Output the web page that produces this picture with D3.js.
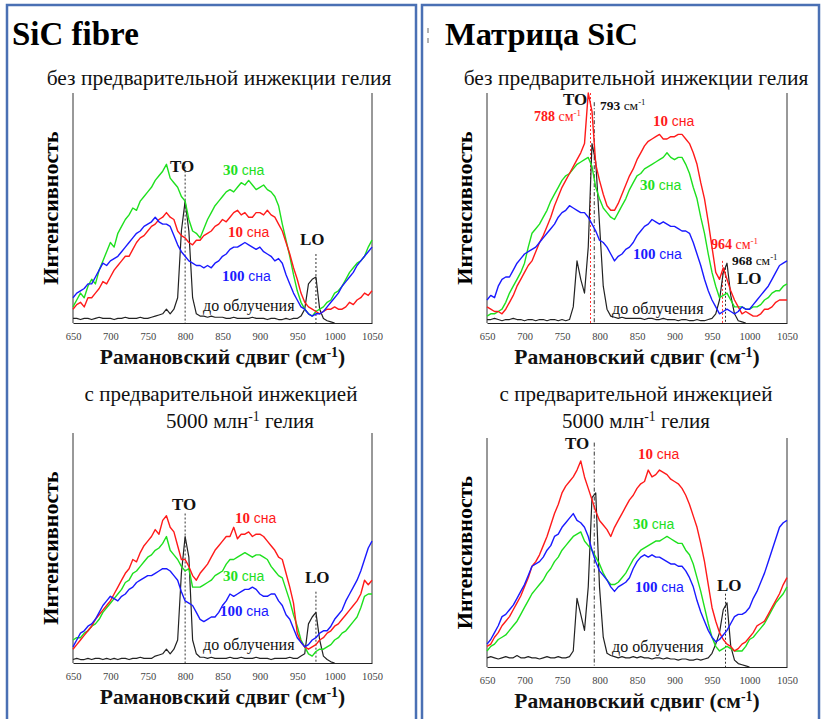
<!DOCTYPE html>
<html>
<head>
<meta charset="utf-8">
<script src="https://cdn.jsdelivr.net/npm/d3@7/dist/d3.min.js"></script>
<style>
  body { margin: 0; background: #fff; }
  svg { display: block; }
</style>
</head>
<body>
<div id="vis-container"></div>
<script>
const w = 824
const h = 719

// Raman shift grid, cm-1 (one reading every 5 cm-1)
const shift = d3.range(650, 1051, 5)
const xTicks = [650, 700, 750, 800, 850, 900, 950, 1000, 1050]

// ---- SiC fibre, no He pre-injection (relative intensity, 0..100 of the frame)
const fibreNoHe_black = [2,2,1.5,2,2,1.5,2,2.5,2,2, 2,1.5,2,2,2.5,2,2,2,2.5,2, 2,2.5,3,3.5,4,6,4,6,11,40,
  53,40,11,4,3,3,2.5,3,2.5,2.5, 2.5,2,2,2.5,2,2,2,2,2.5,2, 2,2,1.5,2,2,1.5,1.5,2,1.5,2,
  2,3,6,17,19,20,6,2,1,0.5, 0,null,null,null,null,null,null,null,null,null, null]
const fibreNoHe_red = [6,8,9,7,11,11,13,15,18,17, 20,23,25,27,29,29,32,35,37,38, 40,42,43,45,46,48,46,45,40,38,
  37,35,34,36,36,38,39,40,42,43, 45,44,46,48,49,47,48,46,46,48, 48,47,49,47,46,43,40,35,30,24,
  19,13,9,7,6,5,4,5,6,6, 7,6,6,7,9,8,10,11,13,12, 14]
const fibreNoHe_green = [7,10,13,11,16,19,17,23,27,31, 35,33,39,42,45,47,50,49,53,55, 57,59,62,64,66,69,63,61,59,55,
  53,45,40,39,37,41,45,48,51,53, 55,57,58,57,59,61,60,62,60,58, 59,60,58,57,55,51,43,36,29,21,
  14,9,6,4,3,5,6,7,9,10, 13,14,16,19,22,24,26,27,29,33, 36]
const fibreNoHe_blue = [11,13,14,15,17,17,20,23,26,25, 27,28,29,31,33,35,37,39,40,42, 43,44,46,44,43,43,42,38,34,31,
  29,27,26,25,25,24,25,24,26,27, 29,30,32,33,33,34,35,34,33,32, 33,31,30,29,27,28,26,21,17,13,
  10,7,6,4,3,4,4,5,7,9, 11,13,16,18,20,22,25,27,29,31, 33]

// ---- SiC fibre, 5000 appm He pre-injection
const fibreHe_black = [1.5,2,1.5,1.5,2,1.5,2,2,1.5,2, 1.5,2,1.5,2,2,1.5,2,2,2.5,2, 2,2,3,3.5,4,6,4,6,10,39,
  55,46,10,4,2.5,2.5,2,2.5,2,2, 2,2,2.5,2,2,2.5,2,2,2,2.5, 2,2,2,1.5,2,2,2,2,2.5,2,
  2,3,4,17,20,22,10,3,1.5,0.5, 0,null,null,null,null,null,null,null,null,null, null]
const fibreHe_red = [6,8,10,12,14,16,19,21,23,25, 27,30,33,36,39,41,45,44,48,51, 53,55,58,56,62,64,59,57,51,45,
  45,42,38,36,39,41,43,46,49,51, 53,55,55,59,54,56,56,57,55,56, 56,55,53,51,49,46,45,39,33,26,
  13,9,7,6,7,8,10,11,13,14, 16,17,19,21,23,25,27,30,36,34, 36]
const fibreHe_green = [10,11,11,13,14,16,17,19,22,24, 26,28,30,32,35,36,39,40,42,44, 46,47,49,50,52,55,49,47,45,42,
  40,41,33,33,33,34,35,36,38,39, 40,43,45,45,46,47,48,47,46,47, 47,46,45,42,40,38,37,32,27,21,
  16,10,7,4,3,5,6,6,7,8, 10,11,13,14,16,18,20,24,29,30, 30]
const fibreHe_blue = [7,10,13,14,16,17,19,22,25,27, 29,28,27,29,30,32,33,35,36,37, 38,38,39,40,41,41,40,38,36,31,
  27,26,25,22,19,18,19,20,20,22, 25,27,30,29,30,31,32,32,33,32, 30,29,29,30,30,27,25,21,19,15,
  11,9,7,8,10,11,13,14,14,16, 19,21,23,27,30,33,36,40,45,50, 53]

// ---- SiC matrix, no He pre-injection
const matrixNoHe_black = [1.5,1.5,2,1.5,1,1.5,1.5,2,1.5,1.5, 1,1.5,1.5,1,1.5,1.5,1,1.5,1.5,1, 1.5,1,1.5,7,27,19,13,33,78,70,
  43,16,6,3,2.5,2,2.5,2,2,2, 2,2,1.5,2,2,1.5,1.5,2,1.5,1.5, 1.5,1,1.5,1.5,1,1,1.5,1,1,1.5,
  2,4,10,22,26,12,4,1,0.5,0, null,null,null,null,null,null,null,null,null,null, null]
const matrixNoHe_red = [7,6,5,5,4,6,9,12,16,19, 22,25,27,31,35,38,42,46,51,55, 59,62,65,68,71,74,78,100,92,69,
  62,56,51,49,49,52,56,60,64,67, 71,74,77,79,80,81,82,80,80,81, 81,82,82,80,78,74,69,61,54,44,
  33,22,19,24,19,14,10,7,4,5, 4,3,3,4,6,6,7,9,10,10, 10]
const matrixNoHe_green = [3,4,4,5,6,9,13,16,19,22, 26,33,39,41,43,46,49,53,56,59, 62,64,65,67,69,70,71,72,68,59,
  54,50,48,46,45,48,51,54,58,61, 64,65,67,68,69,70,71,72,74,72, 71,72,72,69,65,59,54,46,39,30,
  22,16,11,12,13,10,7,7,7,6, 6,7,7,8,10,11,13,14,14,16, 17]
const matrixNoHe_blue = [10,12,11,16,19,20,20,23,26,28, 30,31,32,33,35,37,39,41,43,46, 48,49,51,50,49,48,48,46,43,40,
  36,35,33,30,27,29,30,32,33,35, 38,40,42,43,45,44,43,44,43,42, 42,41,40,40,39,35,30,25,19,14,
  10,7,4,5,6,5,4,5,7,6, 6,8,10,12,14,16,19,22,25,26, 27]

// ---- SiC matrix, 5000 appm He pre-injection
const matrixHe_black = [4,4.5,4,3.5,4,4.5,4,4,5,4, 4,4.5,4,4,3.5,4,4.5,4,4,4.5, 4,4,4.5,7,30,23,16,35,74,76,
  35,13,6,5,4.5,4,4.5,4,4,4.5, 4,4.5,4,4,3.5,4,4,3.5,4,3.5, 3.5,3,3.5,3.5,3,3,3.5,3,3.5,4,
  6,10,15,25,28,9,3,1.5,1,0.5, 0,null,null,null,null,null,null,null,null,null, null]
const matrixHe_red = [9,10,13,15,18,20,22,25,28,31, 35,39,44,46,49,53,57,62,67,71, 76,79,81,83,86,90,83,78,73,68,
  64,62,60,57,61,64,67,70,73,75, 78,80,81,86,83,84,86,85,84,82, 81,80,78,75,71,66,61,54,46,36,
  26,20,15,12,10,9,7,8,10,11, 13,15,18,19,20,23,26,29,32,36, 39]
const matrixHe_green = [7,9,10,12,13,14,16,18,20,23, 26,29,32,34,36,38,41,43,46,48, 51,53,55,57,58,59,55,53,51,48,
  45,41,38,36,36,37,39,41,44,47, 49,51,52,53,54,55,55,56,57,56, 55,54,54,51,49,45,39,33,26,19,
  13,9,7,8,9,8,7,7,7,9, 12,13,15,17,19,22,25,28,30,32, 35]
const matrixHe_blue = [10,12,15,18,22,23,25,27,30,33, 36,40,44,45,46,48,51,53,57,58, 61,63,65,67,64,63,61,57,51,46,
  42,40,38,35,33,35,36,37,39,43, 46,48,49,48,49,48,48,47,46,45, 45,44,44,42,39,35,29,24,20,16,
  13,11,12,14,16,19,22,23,23,24, 26,30,33,37,41,46,51,56,61,63, 64]

const colors = { black: "#222", red: "#ff1a1a", green: "#1ee01e", blue: "#1a1aff" }

const serif = "'Liberation Serif'"
const sans = "'Liberation Sans'"

const svg = d3.select("#vis-container").append("svg")
  .attr("width", w)
  .attr("height", h)
  .style("font-family", serif)

// blue frames
const frame = "#4a70b4"
svg.append("rect").attr("x", 7).attr("y", 5).attr("width", 409).attr("height", 720)
  .attr("fill", "none").attr("stroke", frame).attr("stroke-width", 2.5)
svg.append("rect").attr("x", 422).attr("y", 5).attr("width", 397).attr("height", 720)
  .attr("fill", "none").attr("stroke", frame).attr("stroke-width", 2.5)
svg.append("line").attr("x1", 428).attr("x2", 428).attr("y1", 28).attr("y2", 33).attr("stroke", "#666")
svg.append("line").attr("x1", 428).attr("x2", 428).attr("y1", 38).attr("y2", 43).attr("stroke", "#666")

// big titles
svg.append("text").attr("x", 12).attr("y", 45).style("font-family", serif).attr("font-weight", "bold")
  .attr("font-size", 33).text("SiC fibre")
svg.append("text").attr("x", 445).attr("y", 45).style("font-family", serif).attr("font-weight", "bold")
  .attr("font-size", 32.5).text("Матрица SiC")

// multi-part text helper: parts = [text, style]
function label(x, y, parts, anchor) {
  const t = svg.append("text").attr("x", x).attr("y", y)
    .attr("text-anchor", anchor || "start")
  parts.forEach(p => {
    const s = t.append("tspan").text(p[0])
      .style("font-family", p[1].sans ? sans : serif)
      .attr("font-size", p[1].size || 15)
      .attr("fill", p[1].color || "#111")
    if (p[1].bold) s.attr("font-weight", "bold")
    if (p[1].sup) s.attr("baseline-shift", "super").attr("font-size", (p[1].size || 15) * 0.65)
  })
  return t
}

// subtitles
label(219, 85, [["без предварительной  инжекции гелия", { size: 21.5 }]], "middle")
label(636, 85, [["без предварительной  инжекции гелия", { size: 21.5 }]], "middle")
label(221, 401, [["с предварительной  инжекцией", { size: 21 }]], "middle")
label(240, 428, [["5000 млн", { size: 21 }], ["-1", { size: 21, sup: true }], ["  гелия", { size: 21 }]], "middle")
label(636, 401, [["с предварительной  инжекцией", { size: 21 }]], "middle")
label(636, 428, [["5000 млн", { size: 21 }], ["-1", { size: 21, sup: true }], ["  гелия", { size: 21 }]], "middle")

function panel(p) {
  const xScale = d3.scaleLinear().domain([650, 1050]).range([p.x0, p.x1])
  const yScale = d3.scaleLinear().domain([0, 100]).range([p.yb, p.yt])
  const g = svg.append("g")

  // bottom axis
  const xAxis = d3.axisBottom(xScale).tickValues(xTicks).tickSize(0).tickPadding(10).tickFormat(d3.format("d"))
  const ax = g.append("g").attr("transform", "translate(0," + p.yb + ")").call(xAxis)
  ax.attr("font-family", null).style("font-family", serif)
  ax.select(".domain").attr("stroke", "#222")
  ax.selectAll("text").style("font-family", serif).attr("font-size", 10.5).attr("fill", "#444")

  // side frame lines
  g.append("line").attr("x1", p.x0).attr("x2", p.x0).attr("y1", p.yt).attr("y2", p.yb).attr("stroke", "#333")
  g.append("line").attr("x1", p.x1).attr("x2", p.x1).attr("y1", p.yt).attr("y2", p.yb).attr("stroke", "#333")

  // axis titles
  label((p.x0 + p.x1) / 2, p.yb + 41, [["Рамановский  сдвиг (см", { size: 21.5, bold: true }],
    ["-1", { size: 21.5, bold: true, sup: true }], [")", { size: 21.5, bold: true }]], "middle")
  g.append("text")
    .attr("transform", "translate(" + (p.x0 - 15) + "," + ((p.yt + p.yb) / 2) + ") rotate(-90)")
    .attr("text-anchor", "middle")
    .style("font-family", serif).attr("font-weight", "bold").attr("font-size", 22)
    .text("Интенсивность")

  // marker lines
  p.marks.forEach(m => {
    g.append("line").attr("x1", xScale(m.at)).attr("x2", xScale(m.at))
      .attr("y1", yScale(m.from)).attr("y2", p.yb)
      .attr("stroke", m.color || "#333").attr("stroke-width", 1)
      .attr("stroke-dasharray", m.dash || "2,2")
  })

  const line = d3.line()
    .defined(d => d[1] !== null)
    .x(d => xScale(d[0]))
    .y(d => yScale(d[1]))

  p.series.forEach(s => {
    g.append("path")
      .datum(shift.map((x, i) => [x, s.values[i]]))
      .attr("fill", "none")
      .attr("stroke", colors[s.color])
      .attr("stroke-width", s.color === "black" ? 1.2 : 1.4)
      .attr("stroke-linejoin", "round")
      .attr("d", line)
  })
}

panel({
  x0: 73, x1: 372, yt: 93, yb: 323,
  marks: [{ at: 800, from: 68 }, { at: 975, from: 30 }],
  series: [
    { color: "black", values: fibreNoHe_black },
    { color: "green", values: fibreNoHe_green },
    { color: "red", values: fibreNoHe_red },
    { color: "blue", values: fibreNoHe_blue }
  ]
})
panel({
  x0: 73, x1: 372, yt: 433, yb: 663,
  marks: [{ at: 800, from: 65 }, { at: 975, from: 31 }],
  series: [
    { color: "black", values: fibreHe_black },
    { color: "green", values: fibreHe_green },
    { color: "red", values: fibreHe_red },
    { color: "blue", values: fibreHe_blue }
  ]
})
panel({
  x0: 487, x1: 787, yt: 93, yb: 323,
  marks: [{ at: 788, from: 100, color: "#ff3333" }, { at: 793, from: 96, dash: "4,2,1,2" },
    { at: 964, from: 27, color: "#ff3333" }, { at: 968, from: 24 }],
  series: [
    { color: "black", values: matrixNoHe_black },
    { color: "green", values: matrixNoHe_green },
    { color: "red", values: matrixNoHe_red },
    { color: "blue", values: matrixNoHe_blue }
  ]
})
panel({
  x0: 487, x1: 787, yt: 438, yb: 667,
  marks: [{ at: 793, from: 98, dash: "4,2,1,2" }, { at: 968, from: 32 }],
  series: [
    { color: "black", values: matrixHe_black },
    { color: "green", values: matrixHe_green },
    { color: "red", values: matrixHe_red },
    { color: "blue", values: matrixHe_blue }
  ]
})

// in-plot annotations
const B = { bold: true, size: 17 }
function dose(x, y, n, c) {
  label(x, y, [[n + " ", { bold: true, size: 15, color: c }], ["сна", { sans: true, size: 14, color: c }]])
}
// fibre, no He
label(170, 172, [["TO", B]])
dose(223, 175, 30, colors.green)
dose(228, 237, 10, colors.red)
dose(222, 281, 100, colors.blue)
label(300, 245, [["LO", B]])
label(203, 311, [["до облучения", { size: 16 }]])
// fibre, He
label(172, 510, [["TO", B]])
dose(235, 523, 10, colors.red)
dose(223, 581, 30, colors.green)
dose(220, 616, 100, colors.blue)
label(305, 583, [["LO", B]])
label(203, 650, [["до облучения", { size: 16 }]])
// matrix, no He
label(563, 105, [["TO", B]])
label(534, 121, [["788 ", { bold: true, size: 14, color: colors.red }], ["см", { size: 14, color: colors.red }],
  ["-1", { size: 14, color: colors.red, sup: true }]])
label(600, 110, [["793 ", { bold: true, size: 13.5 }], ["см", { size: 13.5 }], ["-1", { size: 13.5, sup: true }]])
dose(653, 126, 10, colors.red)
dose(640, 190, 30, colors.green)
dose(633, 259, 100, colors.blue)
label(711, 249, [["964 ", { bold: true, size: 14, color: colors.red }], ["см", { size: 14, color: colors.red }],
  ["-1", { size: 14, color: colors.red, sup: true }]])
label(732, 265, [["968 ", { bold: true, size: 13.5 }], ["см", { size: 13.5 }], ["-1", { size: 13.5, sup: true }]])
label(737, 284, [["LO", B]])
label(612, 314, [["до облучения", { size: 16 }]])
// matrix, He
label(565, 449, [["TO", B]])
dose(638, 459, 10, colors.red)
dose(633, 529, 30, colors.green)
dose(635, 592, 100, colors.blue)
label(717, 591, [["LO", B]])
label(612, 652, [["до облучения", { size: 16 }]])
</script>
</body>
</html>
